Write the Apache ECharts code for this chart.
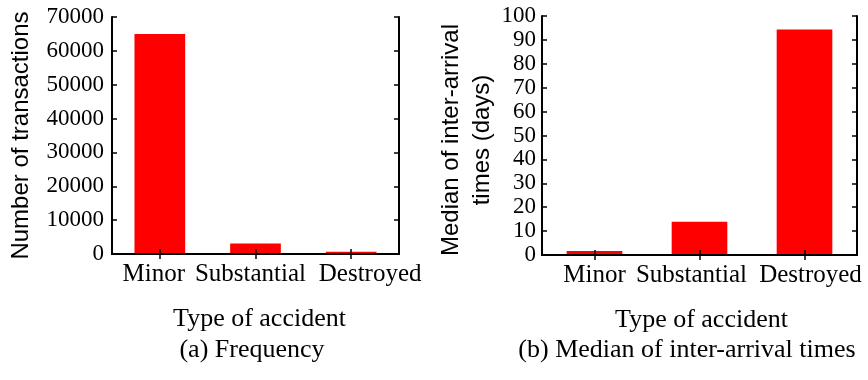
<!DOCTYPE html>
<html>
<head>
<meta charset="utf-8">
<script src="https://cdn.jsdelivr.net/npm/echarts@6/dist/echarts.min.js"></script>
<style>
  html, body { margin: 0; padding: 0; background: #fff; }
  #chart { width: 868px; height: 380px; }
</style>
</head>
<body>
<div id="chart"></div>
<script>
// ---- data ----
const categories = ['Minor', 'Substantial', 'Destroyed'];
const frequencyValues = [65000, 3100, 650];
const medianInterArrivalDays = [1.7, 13.9, 94.4];
const frequencyTicks = { min: 0, max: 70000, interval: 10000 };
const medianTicks = { min: 0, max: 100, interval: 10 };
const texts = {
  xName: 'Type of accident',
  yNameA: 'Number of transactions',
  yNameB: 'Median of inter-arrival\ntimes (days)',
  captionA: '(a) Frequency',
  captionB: '(b) Median of inter-arrival times'
};

// ---- layout / style ----
const SERIF = '"Liberation Serif", "Times New Roman", serif';
const SANS = '"Liberation Sans", Arial, sans-serif';
const RED = '#ff0000';
// horizontal offsets (px) of category labels relative to bar centres
const labelShiftA = [-6, -5, 19];
const labelShiftB = [0, -8, 6];

function richFor(shifts) {
  const rich = {};
  shifts.forEach((d, i) => {
    rich['p' + i] = {
      fontFamily: SERIF, fontSize: 25, color: '#000',
      padding: d >= 0 ? [0, 0, 0, 2 * d] : [0, -2 * d, 0, 0]
    };
  });
  return rich;
}

const tickStyle = { show: true, inside: true, length: 5, lineStyle: { color: '#000', width: 1.5 } };
const lineStyle = { show: true, lineStyle: { color: '#000', width: 2 } };

function catAxis(gridIndex, pos, shifts, withName) {
  const ax = {
    type: 'category', gridIndex, position: pos, data: categories, z: 3,
    axisLine: lineStyle,
    axisTick: Object.assign({ alignWithLabel: true }, tickStyle),
    splitLine: { show: false },
    axisLabel: { show: false }
  };
  if (pos === 'bottom') {
    ax.axisLabel = {
      show: true, interval: 0, margin: 8,
      fontFamily: SERIF, fontSize: 25, color: '#000',
      formatter: (v, i) => '{p' + i + '|' + v + '}',
      rich: richFor(shifts)
    };
  }
  if (withName) {
    ax.name = texts.xName;
    ax.nameLocation = 'middle';
    ax.nameGap = 52;
    ax.nameTextStyle = { fontFamily: SERIF, fontSize: 26, color: '#000',
      padding: gridIndex === 0 ? [0, 0, 0, 8] : [0, 0, 0, 4] };
  }
  return ax;
}

function valAxis(gridIndex, pos, ticks, name, nameGap, margin, namePad, lh) {
  const ax = {
    type: 'value', gridIndex, position: pos, z: 3,
    min: ticks.min, max: ticks.max, interval: ticks.interval,
    axisLine: lineStyle, axisTick: tickStyle,
    splitLine: { show: false },
    axisLabel: { show: pos === 'left', margin: margin, fontFamily: SERIF, fontSize: 23, color: '#000',
      formatter: v => String(v) }
  };
  if (name) {
    ax.name = name;
    ax.nameLocation = 'middle';
    ax.nameRotate = 90;
    ax.nameGap = nameGap;
    ax.nameTextStyle = { fontFamily: SANS, fontSize: 24, color: '#000', lineHeight: lh, padding: namePad };
  }
  return ax;
}

const chart = echarts.init(document.getElementById('chart'), null, { renderer: 'canvas' });
chart.setOption({
  animation: false,
  backgroundColor: '#fff',
  grid: [
    { left: 112, top: 17, width: 287, height: 237 },
    { left: 542, top: 16, width: 315, height: 239 }
  ],
  xAxis: [
    catAxis(0, 'bottom', labelShiftA, true),
    catAxis(1, 'bottom', labelShiftB, true),
    catAxis(0, 'top', labelShiftA, false),
    catAxis(1, 'top', labelShiftB, false)
  ],
  yAxis: [
    valAxis(0, 'left', frequencyTicks, texts.yNameA, 79, 8, [0, 0, 0, 0], 24),
    valAxis(1, 'left', medianTicks, texts.yNameB, 41, 6, [0, 9, 0, 0], 31),
    valAxis(0, 'right', frequencyTicks, null),
    valAxis(1, 'right', medianTicks, null)
  ],
  series: [
    { type: 'bar', xAxisIndex: 0, yAxisIndex: 0, data: frequencyValues, barWidth: '53%',
      itemStyle: { color: RED } },
    { type: 'bar', xAxisIndex: 1, yAxisIndex: 1, data: medianInterArrivalDays, barWidth: '53%',
      itemStyle: { color: RED } }
  ],
  graphic: [
    { type: 'text', x: 252, y: 350, style: { text: texts.captionA, font: '26px ' + SERIF, fill: '#000', align: 'center', verticalAlign: 'middle' } },
    { type: 'text', x: 687, y: 350, style: { text: texts.captionB, font: '26px ' + SERIF, fill: '#000', align: 'center', verticalAlign: 'middle' } }
  ]
});
</script>
</body>
</html>
